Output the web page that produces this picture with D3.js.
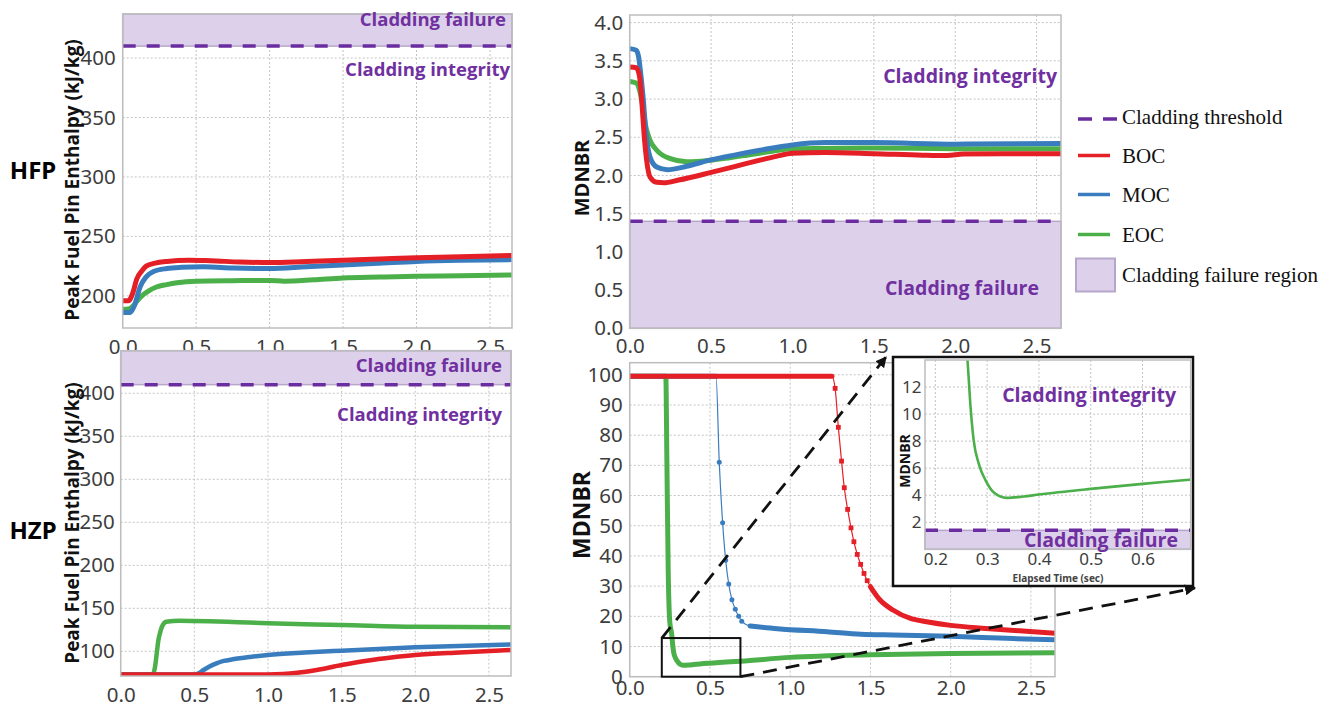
<!DOCTYPE html>
<html lang="en">
<head>
<meta charset="utf-8">
<script src="https://d3js.org/d3.v7.min.js"></script>
<style>
  body { margin: 0; background: #fff; }
  svg text { font-family: "Noto Sans", "Open Sans", sans-serif; }
  .tick text { fill: #3d3d3d; }
  .zone { fill: #7030a0; font-family: "Open Sans", sans-serif; font-weight: 700; }
  .ttl { fill: #111; font-family: "Open Sans", sans-serif; font-weight: 700; }
  .legend text { font-family: "Liberation Serif", "Times New Roman", serif; font-size: 21px; fill: #111; }
</style>
</head>
<body>
<svg id="fig" width="1340" height="709"></svg>
<script>
// time axis ticks (s)
var timeTicks = [0, 0.5, 1.0, 1.5, 2.0, 2.5];
var enthalpyTicksHfp = [200, 250, 300, 350, 400];
var enthalpyTicksHzp = [100, 150, 200, 250, 300, 350, 400];
var mdnbrTicksHfp = [0, 0.5, 1.0, 1.5, 2.0, 2.5, 3.0, 3.5, 4.0];
var mdnbrTicksHzp = [0, 10, 20, 30, 40, 50, 60, 70, 80, 90, 100];
var insetTimeTicks = [0.2, 0.3, 0.4, 0.5, 0.6];
var insetMdnbrTicks = [2, 4, 6, 8, 10, 12];

// limits
var enthalpyLimit = 410;   // kJ/kg
var mdnbrLimit = 1.4;

// HFP peak fuel pin enthalpy [t, kJ/kg]
var hfpBocEnthalpy = [[0,196],[0.04,196],[0.07,203],[0.095,214],[0.13,221],[0.16,225],[0.22,227.5],[0.3,229],[0.45,230],[0.6,229.5],[0.8,228.5],[1.0,228],[1.25,229],[1.5,230],[1.75,231],[2.0,232],[2.3,233],[2.65,234]];
var hfpMocEnthalpy = [[0,186],[0.05,186],[0.08,192],[0.12,208],[0.16,216],[0.21,220.5],[0.3,223],[0.4,224],[0.55,224.5],[0.75,223.5],[1.0,223],[1.25,224.5],[1.5,226],[1.75,227.5],[2.0,229],[2.3,230],[2.65,230.5]];
var hfpEocEnthalpy = [[0,188.5],[0.04,189],[0.07,191.5],[0.1,196],[0.14,201],[0.18,204.5],[0.23,207.5],[0.3,209.5],[0.37,211],[0.5,212.3],[0.75,212.8],[1.0,213],[1.1,212.3],[1.3,213.5],[1.5,215],[1.75,215.8],[2.0,216.5],[2.3,217],[2.65,217.6]];

// HFP MDNBR
var hfpBocMdnbr = [[0,3.42],[0.04,3.41],[0.06,3.3],[0.074,2.98],[0.088,2.55],[0.104,2.2],[0.125,1.98],[0.166,1.91],[0.21,1.905],[0.3,1.94],[0.5,2.04],[0.65,2.12],[0.8,2.2],[0.9,2.25],[1.0,2.29],[1.2,2.3],[1.5,2.285],[1.8,2.265],[1.95,2.26],[2.05,2.28],[2.3,2.285],[2.65,2.285]];
var hfpMocMdnbr = [[0,3.66],[0.04,3.64],[0.055,3.55],[0.063,3.42],[0.084,2.98],[0.1,2.55],[0.125,2.24],[0.166,2.11],[0.23,2.075],[0.35,2.12],[0.49,2.2],[0.65,2.27],[0.8,2.33],[1.0,2.4],[1.2,2.43],[1.5,2.43],[2.0,2.41],[2.65,2.42]];
var hfpEocMdnbr = [[0,3.23],[0.04,3.21],[0.06,3.12],[0.074,2.98],[0.1,2.63],[0.125,2.46],[0.166,2.33],[0.25,2.22],[0.35,2.18],[0.5,2.2],[0.7,2.26],[0.85,2.31],[1.0,2.35],[1.5,2.36],[2.0,2.35],[2.65,2.35]];

// HZP peak fuel pin enthalpy
var hzpBocEnthalpy = [[0,73],[0.5,73],[1.0,73],[1.1,73.5],[1.2,75],[1.33,78.3],[1.5,84],[1.67,89],[1.85,93],[2.0,95.7],[2.3,98.7],[2.65,101.5]];
var hzpMocEnthalpy = [[0,73],[0.5,73],[0.53,74.5],[0.56,78],[0.6,82],[0.65,86],[0.7,88.8],[0.76,90.7],[0.88,93.5],[1.0,95.7],[1.25,98.5],[1.5,100.7],[2.0,104.6],[2.65,108]];
var hzpEocEnthalpy = [[0,73],[0.2,73],[0.22,74],[0.233,82],[0.245,98],[0.256,113],[0.268,122],[0.28,128.6],[0.31,134.4],[0.4,135.6],[0.6,135],[0.8,133.8],[1.0,132.6],[1.25,131.5],[1.5,130.6],[2.0,128.6],[2.65,128]];

// HZP MDNBR (capped at the top of the correlation range)
var hzpBocMdnbr = [[0,99.5],[1.26,99.5],[1.28,95.5],[1.3,82.6],[1.32,71.4],[1.337,62.6],[1.358,55.4],[1.379,49.3],[1.397,44.7],[1.418,40.5],[1.439,37.2],[1.46,34.2],[1.48,31.8],[1.5,29.8],[1.56,25.4],[1.64,22.1],[1.75,19.3],[1.85,18.2],[2.0,17.0],[2.22,16.0],[2.45,15.1],[2.65,14.4]];
var hzpMocMdnbr = [[0,99.5],[0.538,99.5],[0.558,71],[0.579,51],[0.598,38.6],[0.617,30.7],[0.637,25.5],[0.658,22.3],[0.679,20],[0.698,18.4],[0.75,16.8],[0.92,15.9],[1.23,14.9],[1.44,14.1],[1.64,13.8],[2.0,13.4],[2.35,12.7],[2.65,12.2]];
var hzpEocMdnbr = [[0,99.5],[0.225,99.5],[0.232,70],[0.24,35],[0.25,18],[0.262,14],[0.268,10.5],[0.274,8.05],[0.284,6.3],[0.297,5.1],[0.313,4.2],[0.338,3.8],[0.37,3.9],[0.4,4.05],[0.5,4.47],[0.6,4.84],[0.69,5.14],[1.0,6.4],[1.5,7.3],[2.0,7.7],[2.65,7.9]];

// zoomed window shown in the inset
var zoomWindow = { t0: 0.2, t1: 0.69, v0: 0, v1: 12.8 };

var colors = { boc: "#e41f26", moc: "#3a7dbf", eoc: "#4cb04a", limit: "#6a2c9f", band: "#ddd0ea", bandEdge: "#b6a7ca" };

var svg = d3.select("#fig");
var clipCount = 0;

function panel(o) {
  var g = svg.append("g");
  var x = d3.scaleLinear().domain(o.xDomain).range([o.left, o.right]);
  var y = d3.scaleLinear().domain(o.yDomain).range([o.bottom, o.top]);
  var id = "clip" + (clipCount++);
  g.append("clipPath").attr("id", id).append("rect")
    .attr("x", o.left).attr("y", o.top).attr("width", o.right - o.left).attr("height", o.bottom - o.top);

  g.append("rect").attr("x", o.left).attr("y", o.top).attr("width", o.right - o.left)
    .attr("height", o.bottom - o.top).attr("fill", "#fff");

  // dotted grid
  var grid = g.append("g").attr("stroke", "#c4c4c4").attr("stroke-width", 1).attr("stroke-dasharray", "2,2");
  grid.selectAll(".gx").data(o.xTicks).join("line")
    .attr("x1", d => x(d)).attr("x2", d => x(d)).attr("y1", o.top).attr("y2", o.bottom);
  grid.selectAll(".gy").data(o.yTicks).join("line")
    .attr("x1", o.left).attr("x2", o.right).attr("y1", d => y(d)).attr("y2", d => y(d));

  var body = g.append("g").attr("clip-path", "url(#" + id + ")");

  // failure region and threshold
  if (o.limit != null) {
    var yl = y(o.limit);
    var yEdge = o.failAbove ? o.top : o.bottom;
    g.append("rect").attr("x", o.left).attr("width", o.right - o.left)
      .attr("y", Math.min(yl, yEdge)).attr("height", Math.abs(yEdge - yl))
      .attr("fill", colors.band).attr("stroke", colors.bandEdge).attr("stroke-width", 1.5);
    g.append("line").attr("x1", o.left).attr("x2", o.right).attr("y1", yl).attr("y2", yl)
      .attr("stroke", colors.limit).attr("stroke-width", 3.5).attr("stroke-dasharray", "13,11");
  }

  // frame
  g.append("rect").attr("x", o.left).attr("y", o.top).attr("width", o.right - o.left)
    .attr("height", o.bottom - o.top).attr("fill", "none").attr("stroke", "#bdbdbd").attr("stroke-width", 1.5);

  var ax = g.append("g").attr("transform", "translate(0," + o.bottom + ")")
    .call(d3.axisBottom(x).tickValues(o.xTicks).tickSize(0).tickPadding(o.xPad).tickFormat(o.xFmt || d3.format(".1f")));
  var ay = g.append("g").attr("transform", "translate(" + o.left + ",0)")
    .call(d3.axisLeft(y).tickValues(o.yTicks).tickSize(0).tickPadding(o.yPad).tickFormat(o.yFmt || d3.format("d")));
  [ax, ay].forEach(a => {
    a.select(".domain").remove();
    a.selectAll("text").attr("font-size", o.tickSize || 20.5).attr("font-family", "'Noto Sans', sans-serif");
  });

  return { g: g, body: body, x: x, y: y, o: o };
}

function drawLine(p, data, color, width) {
  var line = d3.line().x(d => p.x(d[0])).y(d => p.y(d[1])).curve(d3.curveMonotoneX);
  p.body.append("path").datum(data).attr("d", line).attr("fill", "none")
    .attr("stroke", color).attr("stroke-width", width).attr("stroke-linejoin", "round").attr("stroke-linecap", "round");
}

function zoneText(p, txt, xr, yc, size) {
  p.g.append("text").attr("class", "zone").attr("x", xr).attr("y", yc).attr("dy", "0.35em")
    .attr("text-anchor", "end").attr("font-size", size).text(txt);
}

function yTitle(txt, xc, yc, size) {
  svg.append("text").attr("class", "ttl").attr("transform", "translate(" + xc + "," + yc + ") rotate(-90)")
    .attr("text-anchor", "middle").attr("dy", "0.35em").attr("font-size", size).text(txt);
}

// ---- HFP enthalpy ----
var p1 = panel({ left: 122.7, right: 512, top: 14, bottom: 328, xDomain: [0, 2.65], yDomain: [173, 437],
  xTicks: timeTicks, yTicks: enthalpyTicksHfp, xPad: 11, yPad: 7, limit: enthalpyLimit, failAbove: true });
drawLine(p1, hfpEocEnthalpy, colors.eoc, 5);
drawLine(p1, hfpMocEnthalpy, colors.moc, 5);
drawLine(p1, hfpBocEnthalpy, colors.boc, 5);
zoneText(p1, "Cladding failure", 506, 20, 18.5);
zoneText(p1, "Cladding integrity", 510, 70, 18.5);

// ---- HFP MDNBR ----
var p2 = panel({ left: 629.7, right: 1061, top: 15, bottom: 328.3, xDomain: [0, 2.65], yDomain: [0, 4.1],
  xTicks: timeTicks, yTicks: mdnbrTicksHfp, xPad: 10, yPad: 6.5, yFmt: d3.format(".1f"), limit: mdnbrLimit, failAbove: false });
drawLine(p2, hfpEocMdnbr, colors.eoc, 5);
drawLine(p2, hfpMocMdnbr, colors.moc, 5);
drawLine(p2, hfpBocMdnbr, colors.boc, 5);
zoneText(p2, "Cladding integrity", 1057, 76, 19.5);
zoneText(p2, "Cladding failure", 1039, 288, 19.5);

// ---- HZP enthalpy ----
var p3 = panel({ left: 120.7, right: 511, top: 350.7, bottom: 676, xDomain: [0, 2.65], yDomain: [71.3, 449.5],
  xTicks: timeTicks, yTicks: enthalpyTicksHzp, xPad: 11, yPad: 6, limit: enthalpyLimit, failAbove: true });
drawLine(p3, hzpEocEnthalpy, colors.eoc, 4.5);
drawLine(p3, hzpMocEnthalpy, colors.moc, 4.5);
drawLine(p3, hzpBocEnthalpy, colors.boc, 4.5);
zoneText(p3, "Cladding failure", 502, 366, 18.5);
zoneText(p3, "Cladding integrity", 502, 415, 18.5);

// ---- HZP MDNBR ----
var p4 = panel({ left: 629.7, right: 1055, top: 362.7, bottom: 676.7, xDomain: [0, 2.65], yDomain: [0, 104],
  xTicks: timeTicks, yTicks: mdnbrTicksHzp, xPad: 4, yPad: 7, limit: null });

// thin line with markers through the steep drop, heavy where samples are dense
function markedSeries(p, data, color, denseFrom, shape) {
  drawLine(p, data, color, 1.2);
  drawLine(p, data.filter(d => d[1] > 99), color, 5);
  drawLine(p, data.filter(d => d[0] >= denseFrom), color, 5);
  var pts = data.filter(d => d[1] < 99 && d[0] < denseFrom);
  if (shape === "square") {
    p.body.selectAll(null).data(pts).join("rect")
      .attr("x", d => p.x(d[0]) - 2.4).attr("y", d => p.y(d[1]) - 2.4)
      .attr("width", 4.8).attr("height", 4.8).attr("fill", color);
  } else {
    p.body.selectAll(null).data(pts).join("circle")
      .attr("cx", d => p.x(d[0])).attr("cy", d => p.y(d[1])).attr("r", 2.5).attr("fill", color);
  }
}
drawLine(p4, hzpEocMdnbr, colors.eoc, 5);
markedSeries(p4, hzpMocMdnbr, colors.moc, 0.7, "circle");
markedSeries(p4, hzpBocMdnbr, colors.boc, 1.5, "square");

// zoom window
p4.g.append("rect")
  .attr("x", p4.x(zoomWindow.t0)).attr("y", p4.y(zoomWindow.v1))
  .attr("width", p4.x(zoomWindow.t1) - p4.x(zoomWindow.t0))
  .attr("height", p4.y(zoomWindow.v0) - p4.y(zoomWindow.v1))
  .attr("fill", "none").attr("stroke", "#111").attr("stroke-width", 2);

// ---- inset ----
var box = { left: 893, right: 1193, top: 357, bottom: 586 };
svg.append("rect").attr("x", box.left).attr("y", box.top).attr("width", box.right - box.left)
  .attr("height", box.bottom - box.top).attr("fill", "#fff").attr("stroke", "#111").attr("stroke-width", 2.5);
var p5 = panel({ left: 925, right: 1190.7, top: 360, bottom: 549.3, xDomain: [0.18, 0.693], yDomain: [0, 14],
  xTicks: insetTimeTicks, yTicks: insetMdnbrTicks, xPad: 4, yPad: 3.5, tickSize: 17, limit: mdnbrLimit, failAbove: false });
drawLine(p5, hzpEocMdnbr, colors.eoc, 2.6);
zoneText(p5, "Cladding integrity", 1176, 395, 19.5);
zoneText(p5, "Cladding failure", 1178, 540, 19.5);
svg.append("text").attr("x", 1058).attr("y", 578).attr("dy", "0.35em").attr("text-anchor", "middle")
  .attr("font-size", 10).attr("font-weight", 700).attr("fill", "#444").text("Elapsed Time (sec)");
yTitle("MDNBR", 905, 461, 14);

// dashed pointers from the zoom window to the inset
svg.append("defs").append("marker").attr("id", "arrow").attr("viewBox", "0 0 10 10")
  .attr("refX", 9).attr("refY", 5).attr("markerWidth", 11).attr("markerHeight", 11)
  .attr("markerUnits", "userSpaceOnUse").attr("orient", "auto")
  .append("path").attr("d", "M0,0L10,5L0,10z").attr("fill", "#111");
var pointers = [
  [[p4.x(zoomWindow.t0), p4.y(zoomWindow.v1)], [box.left - 7, box.top]],
  [[p4.x(zoomWindow.t1), p4.y(zoomWindow.v0)], [box.right + 2, box.bottom + 2]]
];
svg.selectAll(".ptr").data(pointers).join("line")
  .attr("x1", d => d[0][0]).attr("y1", d => d[0][1]).attr("x2", d => d[1][0]).attr("y2", d => d[1][1])
  .attr("stroke", "#111").attr("stroke-width", 2.8).attr("stroke-dasharray", "14,9")
  .attr("marker-end", "url(#arrow)");

// ---- titles ----
yTitle("Peak Fuel Pin Enthalpy (kJ/kg)", 72, 180, 19);
yTitle("Peak Fuel Pin Enthalpy (kJ/kg)", 72, 523, 19);
yTitle("MDNBR", 582, 178, 20);
yTitle("MDNBR", 582, 515, 23);
svg.append("text").attr("x", 33).attr("y", 171).attr("dy", "0.35em").attr("text-anchor", "middle")
  .attr("font-family", "'Liberation Sans', Arial, sans-serif").attr("font-weight", 700).attr("font-size", 24).text("HFP");
svg.append("text").attr("x", 33).attr("y", 531).attr("dy", "0.35em").attr("text-anchor", "middle")
  .attr("font-family", "'Liberation Sans', Arial, sans-serif").attr("font-weight", 700).attr("font-size", 24).text("HZP");

// ---- legend ----
var legendItems = [
  { label: "Cladding threshold", kind: "dash", color: colors.limit, y: 117 },
  { label: "BOC", kind: "line", color: colors.boc, y: 155.5 },
  { label: "MOC", kind: "line", color: colors.moc, y: 194.5 },
  { label: "EOC", kind: "line", color: colors.eoc, y: 234.5 },
  { label: "Cladding failure region", kind: "box", color: colors.band, y: 274.5 }
];
var lg = svg.append("g").attr("class", "legend");
var li = lg.selectAll("g").data(legendItems).join("g").attr("transform", d => "translate(0," + d.y + ")");
li.filter(d => d.kind !== "box").append("line")
  .attr("x1", 1078).attr("x2", d => d.kind === "dash" ? 1117 : 1110).attr("y1", d => d.kind === "dash" ? 2 : 0).attr("y2", d => d.kind === "dash" ? 2 : 0)
  .attr("stroke", d => d.color).attr("stroke-width", 3.5)
  .attr("stroke-dasharray", d => d.kind === "dash" ? "14,11" : null);
li.filter(d => d.kind === "box").append("rect")
  .attr("x", 1076).attr("y", -16).attr("width", 39).attr("height", 33)
  .attr("fill", colors.band).attr("stroke", colors.bandEdge).attr("stroke-width", 2);
li.append("text").attr("x", 1122).attr("dy", "0.35em").text(d => d.label);
</script>
</body>
</html>
